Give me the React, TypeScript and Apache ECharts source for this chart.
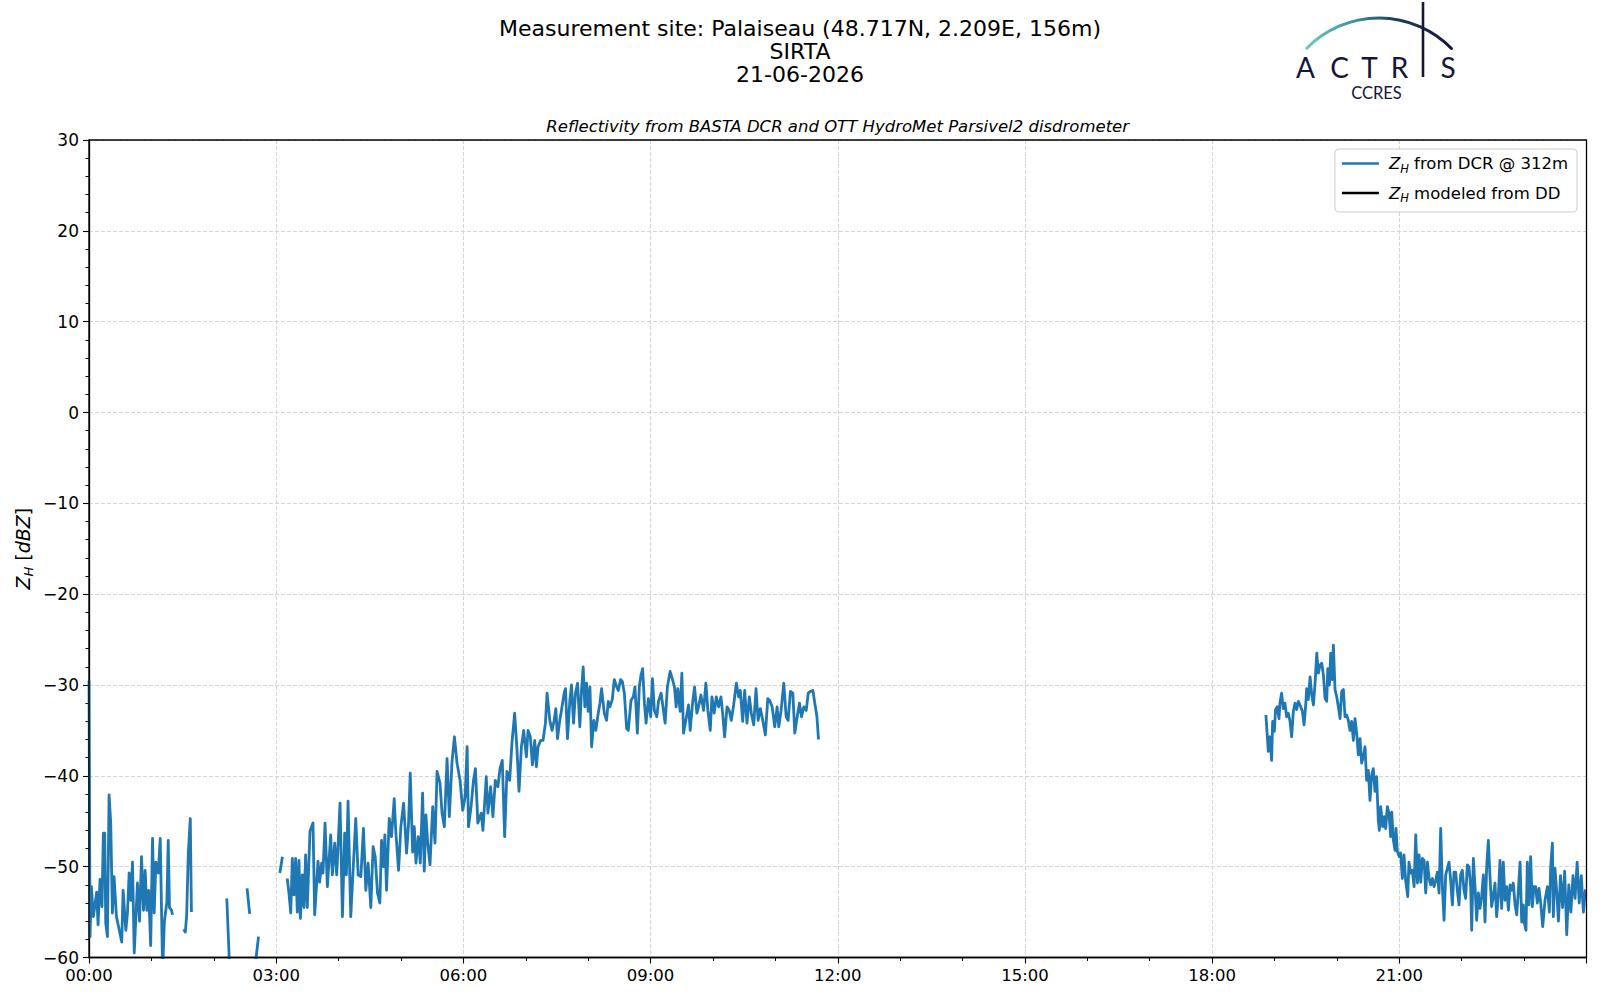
import React, { useEffect, useRef } from "react";
import * as echarts from "echarts";

const FONT = "DejaVu Sans";
const BLUE = "#1f77b4";
const NAVY = "#15163a";

// [minutes since 00:00, dBZ]
const segA: [number, number][] = [
  [0, -29.5], [1, -57.7], [2.3, -52.2], [4.2, -55.5], [7.4, -52.8], [8.7, -56.4], [10.6, -51.4], [12.5, -54.4],
  [13.8, -46.3], [15.1, -46.3], [16.1, -56.2], [17.7, -57.7], [19.3, -42.1], [20.9, -45.2], [22.5, -55.1], [24.1, -51.1],
  [26.4, -55.5], [31.5, -58.3], [32.8, -52.6], [35.4, -57], [37, -55.1], [38.6, -50.7], [40.2, -53.7], [41.8, -49.5],
  [43.5, -59.5], [46.6, -51.8], [48.6, -56], [50.5, -48.9], [52.4, -54.8], [54, -50.4], [55.6, -54.8], [57.4, -52.6],
  [59.3, -58.7], [61.1, -46.9], [62.7, -55.1], [64.3, -49.5], [66.6, -50.7], [68.5, -46.9], [70.8, -61.5], [72.5, -56],
  [74.9, -53.9], [76.2, -47.1], [77.4, -54.5], [79.4, -54.8], [80.2, -55.3],
];
const segB: [number, number][] = [[91, -56.9], [92.6, -57.2], [93.9, -55.4], [95.5, -48.5], [97.4, -44.7], [98.5, -55]];
const segC: [number, number][] = [[132.5, -53.5], [135, -60.5]];
const segD: [number, number][] = [[152, -52.4], [154.5, -55.2]];
const segE: [number, number][] = [[160.5, -60.2], [163, -57.7]];
const segF: [number, number][] = [[183.5, -50.7], [186, -48.9]];
const segG: [number, number][] = [
  [190.6, -51.3], [192.2, -52.8], [194, -55.1], [195.5, -49.1], [197.1, -53.1], [198.7, -49.1], [200.3, -55], [201.9, -49.3],
  [203.3, -55.7], [205.1, -50.9], [206.7, -54.5], [208.3, -48.7], [209.9, -54.5], [212.5, -46.1], [215.4, -45.2], [217, -55.3],
  [220.2, -49.4], [221.8, -51.7], [223.7, -49.6], [225, -50.7], [227, -45.2], [229.2, -52.2], [232.4, -46.5], [234, -50.9],
  [236.3, -47.4], [238.2, -50.9], [241.4, -43], [243.7, -55.5], [245.9, -46.3], [247.5, -50.9], [249.1, -42.8], [251.7, -55.5],
  [256.5, -44.7], [258.8, -50.9], [261.4, -51.1], [263.9, -45.8], [266.2, -52.6], [268.4, -49.6], [271, -54.5], [273.2, -47.8],
  [275.2, -48.9], [277.4, -52.9], [279.7, -54], [281.3, -47.1], [283.2, -50], [284.5, -46.5], [286.1, -52.6], [288.7, -44.7],
  [290.9, -46.7], [293.5, -42.5], [295.1, -46.3], [297.7, -50.4], [299.9, -45.6], [302.5, -43], [305.4, -48.5], [307.3, -45.2],
  [308.9, -39.7], [311.2, -48.4], [312.8, -45.6], [314.4, -49.6], [316.6, -46.7], [318.6, -49.6], [320.8, -41.9], [322.4, -50.5],
  [324, -44.3], [325.7, -47.4], [327.9, -49.8], [330.5, -43.4], [332.7, -47.4], [334.7, -39.5], [337.5, -40.8], [339.5, -44.1],
  [341.7, -45.6], [344.3, -38.1], [346.5, -44.5], [349.1, -38.4], [351.4, -35.7], [353.9, -38.6], [356.8, -40.5], [359.4, -43.8],
  [361.7, -42.3], [363.6, -36.8], [364.9, -45.6], [367.4, -43.4], [369.7, -40.5], [371.6, -39.2], [373.9, -45.2], [377.2, -44.1],
  [378.8, -46], [382, -40.1], [383.6, -44.1], [386.2, -41.2], [388.4, -44.5], [390.7, -40.5], [393.2, -41.2], [395.2, -39.2],
  [397.4, -38.3], [399.7, -46.7], [401.9, -39.5], [404.5, -40.5], [406.7, -36.4], [409.3, -33.1], [411.6, -37.2], [413.5, -41.7],
  [415.8, -36.8], [418, -35], [420.6, -37.9], [422.2, -35], [424.4, -35.7], [426.4, -38.8], [428.6, -36.1], [430.2, -39],
  [431.8, -36.8], [434.4, -36.1], [436.6, -36.1], [438.9, -34.2], [440.5, -30.9], [443.1, -33.9], [445.3, -35], [447.3, -33.9],
  [448.9, -32.6], [450.5, -35.9], [452.7, -33.9], [454.3, -32.8], [456.9, -30.9], [458.2, -30.4], [460.1, -35.9], [462.4, -31.7],
  [464, -30], [465.9, -34.2], [467.8, -30.9], [469.8, -29.8], [472, -34.6], [473.6, -30.6], [475.2, -28], [476.8, -32.4],
  [478.4, -29.8], [480, -32.9], [481.7, -30.2], [483.3, -36.8], [485.5, -33.9], [487.4, -35], [489.7, -33.1], [491.3, -32],
  [492.9, -30.4], [495.5, -33.1], [497.7, -33.9], [499.3, -31.8], [500.9, -32.4], [503.2, -31.6], [505.1, -29.4], [507.4, -30.2],
  [509, -30.6], [511.2, -29.4], [512.8, -29.6], [514.8, -30.9], [517, -34.8], [518.6, -35], [521.2, -31.7], [523.4, -31.3],
  [525, -30.2], [527.3, -35.3], [529.2, -30.2], [530.8, -28.9], [532.4, -28.2], [534.1, -32], [535.7, -34.2], [537.9, -31.5],
  [540.2, -33.5], [541.8, -29.3], [543.7, -32.8], [546, -33.5], [547.6, -31.8], [550.1, -30.9], [551.7, -32.2], [554, -34.2],
  [556.2, -30.2], [558.8, -28.5], [561.1, -29.4], [563, -30.2], [564.6, -32.4], [566.2, -30.4], [568.5, -32.9], [570.1, -28.7],
  [571.7, -35.3], [573.9, -33.9], [576.5, -32.2], [578.1, -35], [580.4, -32], [582.3, -30.2], [584.5, -33.1], [586.1, -32.4],
  [588.4, -31.1], [591, -32.8], [593.2, -29.8], [595.1, -32.8], [597.4, -35], [599, -31.3], [601.2, -33.1], [603.2, -31.3],
  [605.4, -32.4], [607.7, -31.3], [609.3, -33.1], [611.2, -35.7], [613.5, -32.4], [615.7, -32.8], [617.6, -33.9], [619.9, -32.2],
  [622.5, -29.8], [624.7, -31.3], [626.3, -30.6], [628.6, -34], [630.5, -30.6], [632.7, -34.2], [635, -31.3], [636.9, -33.1],
  [639.2, -34.4], [641.4, -30.4], [643.4, -33.9], [645.6, -32.6], [647.9, -33.9], [650.4, -35.5], [652.7, -31.5], [654.6, -31.7],
  [656.9, -32.4], [659.4, -34.6], [661.7, -32.4], [663.3, -34.6], [665.5, -32.8], [668.1, -29.8], [670.4, -33.5], [672.3, -33.9],
  [674.5, -30.7], [676.8, -30.9], [678.7, -35.3], [681, -33.5], [683.2, -32], [685.2, -33.5], [687.4, -32.4], [689.7, -32.8],
  [691.6, -30.9], [693.8, -30.7], [696.1, -30.6], [698.2, -32.2], [700, -33.5], [701.5, -36],
];
const segH: [number, number][] = [
  [1131.7, -33.3], [1134, -37.3], [1135.6, -35.7], [1137.2, -38.3], [1138.2, -34], [1139.8, -35.1], [1141, -32.7], [1142.7, -32.4],
  [1144.3, -33.7], [1145.2, -32], [1146.8, -30.9], [1148.4, -32.6], [1150, -32], [1151.7, -33.5], [1153.3, -33.1], [1154.9, -34],
  [1156.5, -35.7], [1158.1, -32.9], [1159.7, -32], [1161.3, -32.7], [1162.9, -31.8], [1164.5, -32.2], [1166.8, -32.9], [1168.4, -34.4],
  [1170, -32.2], [1170.9, -30.4], [1172.5, -31.6], [1174.2, -29.1], [1175.8, -31.1], [1177.4, -32.2], [1179, -29.8], [1180.6, -26.5],
  [1182.2, -28.7], [1183.8, -27.8], [1185.4, -27.6], [1187, -28.9], [1188.6, -31.5], [1190.2, -31.8], [1191.2, -28.2], [1192.8, -30],
  [1194, -26.5], [1195.6, -29.4], [1196.6, -25.6], [1198.2, -30.5], [1199.8, -31.3], [1201.4, -32.4], [1203, -33.7], [1204.6, -30.7],
  [1206.2, -30.5], [1207.8, -33.5], [1209.4, -33.3], [1211, -33.9], [1212.6, -35], [1214.2, -34], [1215.8, -36.1], [1217.4, -33.7],
  [1219, -35.3], [1220.6, -37.7], [1222.2, -35.9], [1223.8, -38.6], [1225.4, -37.9], [1227, -36.8], [1228.6, -40.5], [1230.2, -39.4],
  [1231.8, -42.7], [1233.4, -39.9], [1235, -39.2], [1236.6, -41.7], [1238.2, -40.1], [1239.8, -44.9], [1240.8, -46], [1242.1, -43.4],
  [1244, -45.6], [1245.6, -44.5], [1246.9, -45.8], [1248.5, -43.4], [1250.1, -44.1], [1251.7, -46.7], [1252.7, -44], [1254.3, -47.1],
  [1255.9, -48.2], [1256.8, -45.8], [1258.1, -48.3], [1260, -48.9], [1261.3, -48.5], [1262.9, -51.3], [1264.5, -48.7], [1266.1, -51.5],
  [1268.1, -53.3], [1269.3, -49.5], [1270.9, -50.7], [1272.5, -50.4], [1274.2, -52.2], [1275.8, -46.5], [1277.4, -51.8], [1279, -48.7],
  [1280.6, -51.7], [1282.2, -49.1], [1283.8, -49.3], [1285.4, -52.9], [1287, -49.5], [1288.6, -51.3], [1290.2, -52], [1291.8, -51.3],
  [1293.4, -52.2], [1295, -51.5], [1296.6, -50.6], [1298.2, -52.9], [1299.8, -45.8], [1301.4, -52.2], [1303, -55.9], [1304.6, -50.9],
  [1306.2, -50.2], [1307.8, -49.5], [1309.4, -51.5], [1311, -54.2], [1312.6, -50.6], [1314.2, -50.6], [1315.8, -52.6], [1317.4, -54.2],
  [1319, -50.9], [1320.6, -50.4], [1322.2, -52.6], [1323.8, -53.5], [1325.4, -49.8], [1327, -50], [1328.6, -52.2], [1329.6, -57],
  [1331.2, -49.1], [1332.8, -52.2], [1334.4, -55.9], [1336, -52.9], [1337.6, -54.6], [1339.2, -53.3], [1340.8, -50.9], [1342.4, -56.1],
  [1344, -50], [1345.6, -47.1], [1347.2, -51.1], [1348.8, -54.4], [1350.4, -53.3], [1352, -51.8], [1353.6, -55.5], [1355.2, -53.3],
  [1356.8, -49.3], [1358.4, -54.6], [1360, -49.5], [1361.6, -53.7], [1363.3, -52.2], [1364.9, -54.8], [1366.5, -52], [1368.1, -52.6],
  [1369.6, -51.8], [1371.3, -54.2], [1372.9, -55.3], [1374.5, -52.6], [1376.1, -49.5], [1377.7, -56.1], [1379.3, -54.2], [1380.2, -56.2],
  [1381.8, -57], [1383.1, -49.5], [1384.7, -54.2], [1386.3, -48.9], [1387.9, -54.4], [1389.5, -52.2], [1391.1, -52.2], [1392.7, -54],
  [1394.3, -52.4], [1395.9, -53.9], [1397.9, -56.6], [1400.1, -53.7], [1402.4, -52.2], [1404.3, -55], [1405.6, -50], [1407.2, -47.4],
  [1408.1, -55.5], [1409.7, -50.2], [1411.5, -53], [1413, -56], [1415, -51], [1417, -54.5], [1419, -50.5], [1421, -57.5],
  [1423, -52], [1425, -55], [1427, -51], [1429, -53.5], [1431, -49.5], [1433, -54], [1435, -51], [1437, -55], [1439, -52.5],
];
const dcrSegments = [segA, segB, segC, segD, segE, segF, segG, segH];

const xTickLabels = ["00:00", "03:00", "06:00", "09:00", "12:00", "15:00", "18:00", "21:00"];

const titleLines = ["Measurement site: Palaiseau (48.717N, 2.209E, 156m)", "SIRTA", "21-06-2026"];
const subtitle = "Reflectivity from BASTA DCR and OTT HydroMet Parsivel2 disdrometer";
const logoLetters = ["A", "C", "T", "R", "S"];

const subRich = {
  z: { fontFamily: FONT, fontStyle: "italic", fontSize: 16.5, lineHeight: 22, color: "#000" },
  h: { fontFamily: FONT, fontStyle: "italic", fontSize: 11.5, lineHeight: 12, verticalAlign: "bottom", color: "#000" },
  n: { fontFamily: FONT, fontSize: 16.5, lineHeight: 22, color: "#000" },
  i: { fontFamily: FONT, fontStyle: "italic", fontSize: 16.5, lineHeight: 22, color: "#000" },
};

const PLOT = { left: 89, top: 140, width: 1497.5, height: 817.5 };

export default function App() {
  const ref = useRef<HTMLDivElement>(null);
  useEffect(() => {
    document.body.style.margin = "0";
    if (!ref.current) return;
    const chart = echarts.init(ref.current, undefined, { renderer: "svg" });

    const data: any[] = [];
    dcrSegments.forEach((seg, k) => {
      if (k > 0) data.push([seg[0][0] - 0.5, null]);
      seg.forEach((p) => data.push(p));
    });

    const logoX = [1305.5, 1339.5, 1369.5, 1399.5, 1448];
    const deg = Math.PI / 180;

    const graphic: any[] = [
      ...titleLines.map((t, k) => ({
        type: "text",
        x: 800,
        y: 28.5 + k * 23.2,
        style: { text: t, fontFamily: FONT, fontSize: 22, fill: "#000", align: "center", verticalAlign: "middle", textAlign: "center", textVerticalAlign: "middle" },
      })),
      {
        type: "text",
        x: 837.7,
        y: 126.5,
        style: { text: subtitle, fontFamily: FONT, fontStyle: "italic", fontSize: 16.5, fill: "#000", align: "center", verticalAlign: "middle", textAlign: "center", textVerticalAlign: "middle" },
      },
      {
        type: "text",
        x: 23,
        y: 548.7,
        rotation: Math.PI / 2,
        style: {
          text: "{z|Z}{h|H}{n| [}{i|dBZ}{n|]}",
          rich: {
            z: { ...subRich.z, fontSize: 19, lineHeight: 24 },
            h: { ...subRich.h, fontSize: 13, lineHeight: 13 },
            n: { ...subRich.n, fontSize: 19, lineHeight: 24 },
            i: { ...subRich.i, fontSize: 19, lineHeight: 24 },
          },
          align: "center",
          verticalAlign: "middle",
          textAlign: "center",
          textVerticalAlign: "middle",
        },
      },
      // plot frame (spines)
      {
        type: "rect",
        z: 100,
        silent: true,
        shape: { x: PLOT.left, y: PLOT.top, width: PLOT.width, height: PLOT.height },
        style: { fill: null, stroke: "#000", lineWidth: 1.3 },
      },
      // logo
      {
        type: "arc",
        shape: { cx: 1379, cy: 119.4, r: 101.4, startAngle: -135.4 * deg, endAngle: -44.4 * deg, clockwise: true },
        style: {
          fill: null,
          lineWidth: 3,
          lineCap: "round",
          stroke: new echarts.graphic.LinearGradient(0, 0, 1, 0, [
            { offset: 0, color: "#6cc6c2" },
            { offset: 0.35, color: "#3a8fa0" },
            { offset: 0.6, color: "#1f3e62" },
            { offset: 1, color: NAVY },
          ]),
        },
      },
      {
        type: "line",
        shape: { x1: 1423, y1: 2, x2: 1423, y2: 77 },
        style: { stroke: NAVY, lineWidth: 2.6 },
      },
      ...logoLetters.map((l, k) => ({
        type: "text",
        x: logoX[k],
        y: 67,
        style: { text: l, fontFamily: "Lato", fontSize: 28, fill: NAVY, align: "center", verticalAlign: "middle", textAlign: "center", textVerticalAlign: "middle" },
      })),
      {
        type: "text",
        x: 1376.5,
        y: 93,
        style: { text: "CCRES", fontFamily: "Lato", fontSize: 16.5, fill: NAVY, align: "center", verticalAlign: "middle", textAlign: "center", textVerticalAlign: "middle" },
      },
    ];

    const minus = (v: number) => (v < 0 ? "\u2212" + Math.abs(v) : String(v));

    chart.setOption({
      animation: false,
      grid: { left: PLOT.left, top: PLOT.top, width: PLOT.width, height: PLOT.height, show: false },
      xAxis: {
        type: "value",
        min: 0,
        max: 1440,
        interval: 180,
        axisLine: { show: true, onZero: false, lineStyle: { color: "#000", width: 1.3 } },
        axisTick: { show: true, length: 6, lineStyle: { color: "#000", width: 1.1 } },
        minorTick: { show: true, splitNumber: 3, length: 3.5, lineStyle: { color: "#000", width: 1 } },
        splitLine: { show: true, lineStyle: { color: "#d4d4d4", type: [4, 2], width: 1 } },
        axisLabel: {
          fontFamily: FONT,
          fontSize: 16.5,
          color: "#000",
          margin: 9,
          showMaxLabel: false,
          formatter: (v: number) => xTickLabels[Math.round(v / 180)] ?? "",
        },
      },
      yAxis: {
        type: "value",
        min: -60,
        max: 30,
        interval: 10,
        axisLine: { show: true, onZero: false, lineStyle: { color: "#000", width: 1.3 } },
        axisTick: { show: true, length: 6, lineStyle: { color: "#000", width: 1.1 } },
        minorTick: { show: true, splitNumber: 5, length: 3.5, lineStyle: { color: "#000", width: 1 } },
        splitLine: { show: true, lineStyle: { color: "#d4d4d4", type: [4, 2], width: 1 } },
        axisLabel: { fontFamily: FONT, fontSize: 17, color: "#000", margin: 10, formatter: minus },
      },
      legend: {
        data: ["dcr", "dd"],
        orient: "vertical",
        right: 23,
        top: 149,
        padding: [6, 9, 8, 7],
        itemGap: 10,
        itemWidth: 37,
        itemHeight: 2.6,
        icon: "rect",
        backgroundColor: "rgba(255,255,255,0.85)",
        borderColor: "#cccccc",
        borderWidth: 1,
        borderRadius: 4,
        formatter: (name: string) =>
          name === "dcr" ? "{z|Z}{h|H}{n| from DCR @ 312m}" : "{z|Z}{h|H}{n| modeled from DD}",
        textStyle: { fontFamily: FONT, fontSize: 16.5, color: "#000", padding: [0, 0, 0, 5], rich: subRich },
      },
      series: [
        {
          name: "dcr",
          type: "line",
          data,
          showSymbol: false,
          symbol: "none",
          connectNulls: false,
          clip: true,
          color: BLUE,
          lineStyle: { color: BLUE, width: 2.8, join: "round" },
          silent: true,
        },
        { name: "dd", type: "line", data: [], color: "#000", lineStyle: { color: "#000", width: 2.5 }, showSymbol: false },
      ],
      graphic,
    });
    return () => chart.dispose();
  }, []);
  return <div ref={ref} style={{ width: 1600, height: 1000 }} />;
}
